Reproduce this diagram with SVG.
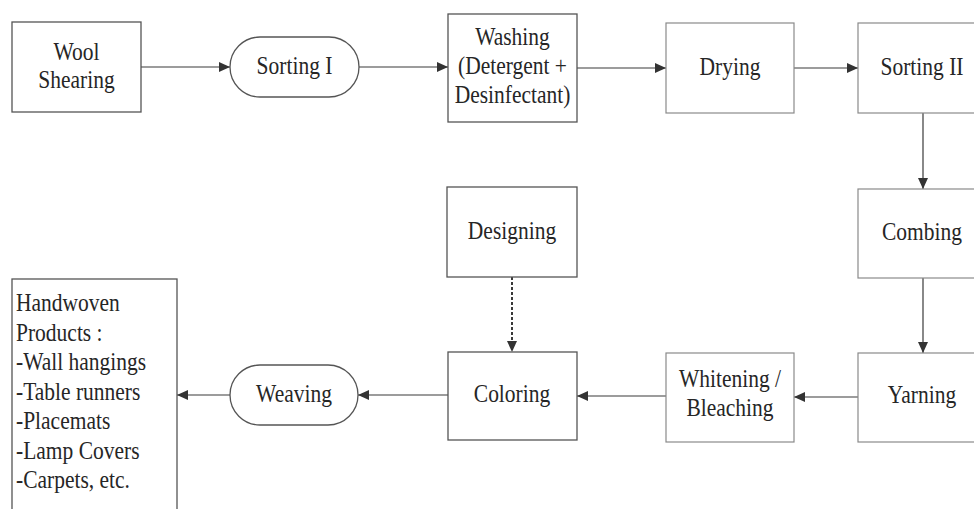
<svg xmlns="http://www.w3.org/2000/svg" width="974" height="509" viewBox="0 0 974 509">
<defs>
<style>
.box{fill:#fff;stroke:#555;stroke-width:1.3}
.lbox{fill:#fff;stroke:#8a8a8a;stroke-width:1.2}
.t{font-family:"Liberation Serif","Times New Roman",serif;font-size:21.5px;fill:#262626;text-anchor:middle}
.tl{font-family:"Liberation Serif","Times New Roman",serif;font-size:21.5px;fill:#262626}
.c{stroke:#3a3a3a;stroke-width:1.2;fill:none}
.d{stroke:#3a3a3a;stroke-width:2;fill:none;stroke-dasharray:3 2}
</style>
<marker id="ah" markerWidth="12" markerHeight="10" refX="11" refY="5" orient="auto" markerUnits="userSpaceOnUse">
<path d="M0,0 L11,5 L0,10 Z" fill="#333"/>
</marker>
</defs>
<rect width="974" height="509" fill="#fff"/>
<g id="connectors">
<line class="c" x1="141" y1="67" x2="230" y2="67" marker-end="url(#ah)"/>
<line class="c" x1="359" y1="67" x2="448" y2="67" marker-end="url(#ah)"/>
<line class="c" x1="577" y1="68" x2="666" y2="68" marker-end="url(#ah)"/>
<line class="c" x1="794" y1="68" x2="858" y2="68" marker-end="url(#ah)"/>
<line class="c" x1="923" y1="113" x2="923" y2="189" marker-end="url(#ah)"/>
<line class="c" x1="923" y1="278" x2="923" y2="353" marker-end="url(#ah)"/>
<line class="c" x1="858" y1="397" x2="794" y2="397" marker-end="url(#ah)"/>
<line class="c" x1="666" y1="396" x2="577" y2="396" marker-end="url(#ah)"/>
<line class="d" x1="512" y1="277" x2="512" y2="352" marker-end="url(#ah)"/>
<line class="c" x1="448" y1="395" x2="358" y2="395" marker-end="url(#ah)"/>
<line class="c" x1="230" y1="395" x2="177" y2="395" marker-end="url(#ah)"/>
</g>
<g id="wool-shearing">
<rect class="box" x="12" y="22" width="129" height="90"/>
<text class="t" transform="translate(76.5,60) scale(1,1.15)">Wool</text>
<text class="t" transform="translate(76.5,88) scale(1,1.15)">Shearing</text>
</g>
<g id="sorting-1">
<rect class="box" x="230" y="37" width="129" height="60" rx="30" ry="30"/>
<text class="t" transform="translate(294.5,74) scale(1,1.15)">Sorting I</text>
</g>
<g id="washing">
<rect class="box" x="448" y="14" width="129" height="108"/>
<text class="t" transform="translate(512.5,45) scale(1,1.15)">Washing</text>
<text class="t" transform="translate(512.5,74) scale(1,1.15)">(Detergent +</text>
<text class="t" transform="translate(512.5,103) scale(1,1.15)">Desinfectant)</text>
</g>
<g id="drying">
<rect class="lbox" x="666" y="23" width="128" height="90"/>
<text class="t" transform="translate(730,75) scale(1,1.15)">Drying</text>
</g>
<g id="sorting-2">
<rect class="lbox" x="858" y="23" width="130" height="90"/>
<text class="t" transform="translate(922,75) scale(1,1.15)">Sorting II</text>
</g>
<g id="combing">
<rect class="lbox" x="858" y="189" width="130" height="89"/>
<text class="t" transform="translate(922,240) scale(1,1.15)">Combing</text>
</g>
<g id="yarning">
<rect class="lbox" x="858" y="353" width="130" height="89"/>
<text class="t" transform="translate(922,403) scale(1,1.15)">Yarning</text>
</g>
<g id="whitening">
<rect class="lbox" x="666" y="353" width="128" height="89"/>
<text class="t" transform="translate(730,387) scale(1,1.15)">Whitening /</text>
<text class="t" transform="translate(730,416) scale(1,1.15)">Bleaching</text>
</g>
<g id="designing">
<rect class="box" x="447" y="187" width="130" height="90"/>
<text class="t" transform="translate(512,239) scale(1,1.15)">Designing</text>
</g>
<g id="coloring">
<rect class="box" x="448" y="352" width="129" height="88"/>
<text class="t" transform="translate(512,402) scale(1,1.15)">Coloring</text>
</g>
<g id="weaving">
<rect class="box" x="230" y="365" width="128" height="60" rx="30" ry="30"/>
<text class="t" transform="translate(294,402) scale(1,1.15)">Weaving</text>
</g>
<g id="handwoven-products">
<rect class="box" x="12" y="279" width="165" height="240"/>
<text class="tl" transform="translate(16,311) scale(1,1.15)">Handwoven</text>
<text class="tl" transform="translate(16,341) scale(1,1.15)">Products :</text>
<text class="tl" transform="translate(16,370) scale(1,1.15)">-Wall hangings</text>
<text class="tl" transform="translate(16,400) scale(1,1.15)">-Table runners</text>
<text class="tl" transform="translate(16,429) scale(1,1.15)">-Placemats</text>
<text class="tl" transform="translate(16,459) scale(1,1.15)">-Lamp Covers</text>
<text class="tl" transform="translate(16,488) scale(1,1.15)">-Carpets, etc.</text>
</g>
</svg>
